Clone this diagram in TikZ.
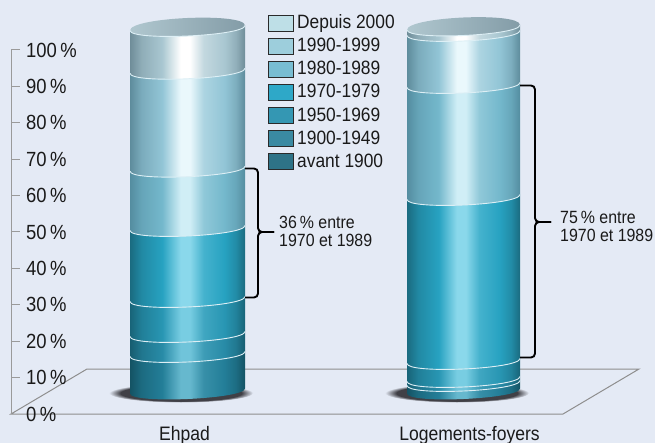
\documentclass[tikz,border=0pt]{standalone}
\usepackage{fontspec}
\setmainfont{Liberation Sans}[FakeStretch=0.9]

% page and lines
\definecolor{bg}{RGB}{228,234,245}
\definecolor{axisgray}{HTML}{9A9A9A}
\definecolor{floorgray}{HTML}{8E8E8E}
\definecolor{rimcol}{HTML}{DDEFF5}
\definecolor{txt}{HTML}{1A1A1A}
\definecolor{shd}{HTML}{404046}
\definecolor{lgborder}{HTML}{2A2A2A}
\definecolor{capL}{HTML}{B0C7CF}
\definecolor{capR}{HTML}{839CA7}

% legend swatches
\definecolor{l7}{HTML}{BEDFE7}
\definecolor{l6}{HTML}{9DCEDC}
\definecolor{l5}{HTML}{78BDD2}
\definecolor{l4}{HTML}{2EA8C8}
\definecolor{l3}{HTML}{3497B3}
\definecolor{l2}{HTML}{3A8AA2}
\definecolor{l1}{HTML}{2E7387}

% band tones: edge / middle / highlight
\definecolor{b7e}{HTML}{6F8D99}\definecolor{b7m}{HTML}{A9C7D1}\definecolor{b7h}{HTML}{FFFFFF}
\definecolor{b6e}{HTML}{5E8C9C}\definecolor{b6m}{HTML}{92C5D6}\definecolor{b6h}{HTML}{EAF8FC}
\definecolor{b5e}{HTML}{548DA0}\definecolor{b5m}{HTML}{74B8CC}\definecolor{b5h}{HTML}{D0EEF6}
\definecolor{b4e}{HTML}{1A6B80}\definecolor{b4m}{HTML}{27A2C1}\definecolor{b4h}{HTML}{8AD8EB}
\definecolor{b3e}{HTML}{186478}\definecolor{b3m}{HTML}{2896B3}\definecolor{b3h}{HTML}{78CDE2}
\definecolor{b2e}{HTML}{175D70}\definecolor{b2m}{HTML}{288BA7}\definecolor{b2h}{HTML}{70C4DA}
\definecolor{b1e}{HTML}{145364}\definecolor{b1m}{HTML}{237E98}\definecolor{b1h}{HTML}{66B8CE}

% metallic horizontal shading for one cylinder band
\newcommand\mkband[4]{%
  \pgfdeclarehorizontalshading{#1}{100bp}{color(0bp)=(#2); color(25bp)=(#2);
    color(30bp)=(#3!55!#2); color(39bp)=(#3); color(47bp)=(#4); color(51bp)=(#4);
    color(57bp)=(#3!70!#4); color(66bp)=(#3); color(71bp)=(#3!60!#2);
    color(75bp)=(#2); color(100bp)=(#2)}}
\mkband{band7}{b7e}{b7m}{b7h}
\mkband{band6}{b6e}{b6m}{b6h}
\mkband{band5}{b5e}{b5m}{b5h}
\mkband{band4}{b4e}{b4m}{b4h}
\mkband{band3}{b3e}{b3m}{b3h}
\mkband{band2}{b2e}{b2m}{b2h}
\mkband{band1}{b1e}{b1m}{b1h}

% soft floor shadow
\pgfdeclareradialshading{shadowsh}{\pgfpoint{0bp}{0bp}}{color(0bp)=(shd); color(21bp)=(shd);
  color(25bp)=(bg); color(50bp)=(bg)}

% ellipse tilt (half) and front-arc control offset
\newcommand\cyltilt{2.5}
\newcommand\cyldepth{10.67}

% one band between two front arcs: cx, rx, ytop, ybot, shading
\newcommand\cylband[5]{%
  \shade[shading=#5] ({#1-#2},{#3+\cyltilt}) .. controls ({#1-#2},{#3+\cyltilt+\cyldepth}) and ({#1+#2},{#3-\cyltilt+\cyldepth}) .. ({#1+#2},{#3-\cyltilt})
    -- ({#1+#2},{#4-\cyltilt}) .. controls ({#1+#2},{#4-\cyltilt+\cyldepth}) and ({#1-#2},{#4+\cyltilt+\cyldepth}) .. ({#1-#2},{#4+\cyltilt}) -- cycle;}
% light boundary line along a front arc: cx, rx, y
\newcommand\cylrim[3]{%
  \draw[rim] ({#1-#2},{#3+\cyltilt}) .. controls ({#1-#2},{#3+\cyltilt+\cyldepth}) and ({#1+#2},{#3-\cyltilt+\cyldepth}) .. ({#1+#2},{#3-\cyltilt});}
% top cap: cx, rx, y
\newcommand\cylcap[3]{%
  \shade[left color=capL,right color=capR] ({#1-#2},{#3+\cyltilt}) .. controls ({#1-#2},{#3+\cyltilt-13.33}) and ({#1+#2},{#3-\cyltilt-13.33}) .. ({#1+#2},{#3-\cyltilt})
    .. controls ({#1+#2},{#3-\cyltilt+\cyldepth}) and ({#1-#2},{#3+\cyltilt+\cyldepth}) .. cycle;
  \cylrim{#1}{#2}{#3}}
% curly bracket: x0, xv, ytop, ybot, ymid, xtip
\newcommand\curlybrace[6]{%
  \draw[brc] (#1,#3) -- (#2,#3) -- (#2,#5) -- (#6,#5);
  \draw[brc] (#1,#4) -- (#2,#4) -- (#2,#5) -- (#6,#5);}

\begin{document}
\begin{tikzpicture}[x=1pt,y=-1pt,
  axisline/.style={draw=axisgray,line width=1pt},
  floorline/.style={draw=floorgray,line width=1pt},
  rim/.style={draw=rimcol,line width=0.9pt},
  brc/.style={draw=black,line width=1.9pt,rounded corners=4pt},
  axl/.style={anchor=west,inner sep=0pt,font=\fontsize{20.5}{21}\selectfont,text=txt},
  catl/.style={anchor=base,inner sep=0pt,font=\fontsize{19.5}{20}\selectfont,text=txt},
  lgl/.style={anchor=base west,inner sep=0pt,font=\fontsize{19.3}{20}\selectfont,text=txt},
  lgbox/.style={draw=lgborder,line width=0.9pt},
  brl/.style={anchor=base west,inner sep=0pt,font=\fontsize{17.7}{18}\selectfont,text=txt}]

\fill[bg] (0,0) rectangle (655,443);
\useasboundingbox (0,0) rectangle (655,443);

% floor
\coordinate (f1) at (11,414);
\coordinate (f2) at (563,414);
\coordinate (f3) at (639,369);
\coordinate (f4) at (87,369);
\draw[floorline] (f1) -- (f2) -- (f3) -- (f4) -- cycle;

% vertical axis
\coordinate (atop) at (11,50);
\draw[axisline] (20,50) -- (atop) -- (f1);
\foreach \v in {10,20,...,90}
  \draw[axisline] (11,{414-3.64*\v}) -- (20,{414-3.64*\v});
\foreach \v in {0,10,...,100}
  \node[axl] (ax\v) at (26,{414-3.64*\v}) {\v\,\%};

% shadows
\shade[shading=shadowsh] (181,393) ellipse [x radius=72, y radius=9.5];
\shade[shading=shadowsh] (457,393) ellipse [x radius=72, y radius=9.5];

% Ehpad cylinder
\cylband{187.5}{57.5}{28}{70.8}{band7}
\cylband{187.5}{57.5}{70.8}{168.7}{band6}
\cylband{187.5}{57.5}{168.7}{228}{band5}
\cylband{187.5}{57.5}{228}{299}{band4}
\cylband{187.5}{57.5}{299}{334}{band3}
\cylband{187.5}{57.5}{334}{354}{band2}
\cylband{187.5}{57.5}{354}{391}{band1}
\foreach \y in {70.8,168.7,228,299,334,354} {\cylrim{187.5}{57.5}{\y}}
\cylcap{187.5}{57.5}{28}

% Logements-foyers cylinder
\cylband{463.5}{56.5}{27.5}{33}{band7}
\cylband{463.5}{56.5}{33}{85}{band6}
\cylband{463.5}{56.5}{85}{197}{band5}
\cylband{463.5}{56.5}{197}{361}{band4}
\cylband{463.5}{56.5}{361}{379}{band3}
\cylband{463.5}{56.5}{379}{383}{band2}
\cylband{463.5}{56.5}{383}{391}{band1}
\foreach \y in {33,85,197,361,379,383} {\cylrim{463.5}{56.5}{\y}}
\cylcap{463.5}{56.5}{27.5}

% brackets
\curlybrace{245}{258}{168.5}{297.5}{232}{274}
\curlybrace{520}{535}{85.5}{357.5}{222}{551}

% legend
\foreach \i/\c/\t in {0/l7/Depuis 2000,1/l6/1990-1999,2/l5/1980-1989,3/l4/1970-1979,
                      4/l3/1950-1969,5/l2/1900-1949,6/l1/avant 1900} {
  \pgfmathsetmacro\yt{15+23.15*\i}
  \filldraw[lgbox,fill=\c] (268,\yt) rectangle ++(25,16);
  \node[lgl] (lg\i) at (297,{\yt+13.5}) {\t};
}

% bracket labels
\node[brl] (p36a) at (279,229) {36\,\% entre};
\node[brl] (p36b) at (279,247) {1970 et 1989};
\node[brl] (p75a) at (560,223.3) {75\,\% entre};
\node[brl] (p75b) at (560,241.7) {1970 et 1989};

% categories
\node[catl] (cat1) at (184.5,440) {Ehpad};
\node[catl] (cat2) at (469.5,440) {Logements-foyers};
\end{tikzpicture}
\end{document}
